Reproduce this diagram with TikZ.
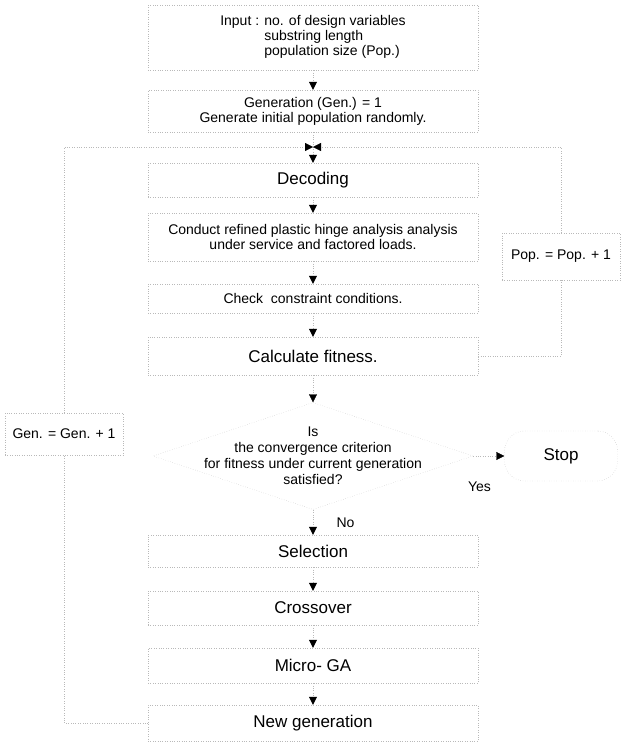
\documentclass[tikz,border=0pt]{standalone}
\usepackage{fontspec}
\setmainfont{Liberation Sans}
\usetikzlibrary{arrows.meta,shapes.geometric}

\begin{document}
\begin{tikzpicture}[x=1pt, y=-1pt,
  every node/.style = {align=center, font=\fontsize{14}{15}\selectfont},
  procbox/.style = {draw=gray!55, dotted, minimum width=330pt, inner sep=0pt},
  bigtxt/.style = {font=\fontsize{17}{20}\selectfont},
  flow/.style = {draw=gray!55, dotted, -{Triangle[length=8pt,width=8pt,color=black]}},
  link/.style = {draw=gray!55, dotted}]

  \useasboundingbox (0,0) rectangle (623,742);

  \node[procbox, minimum height=65pt] (input) at (313,37.5)
    {\begin{tabular}{@{}l@{ }l@{}}Input :&no. of design variables\\
      &substring length\\&population size (Pop.)\end{tabular}};
  \node[procbox, minimum height=42pt] (gen) at (313,111)
    {Generation (Gen.) = 1\\Generate initial population randomly.};
  \coordinate (join) at (313,147);
  \node[procbox, bigtxt, minimum height=34pt] (dec) at (313,180) {Decoding};
  \node[procbox, minimum height=48pt] (cond) at (313,237)
    {Conduct refined plastic hinge analysis analysis\\under service and factored loads.};
  \node[procbox, minimum height=29pt] (check) at (313,298.5) {Check\ \ constraint conditions.};
  \node[procbox, bigtxt, minimum height=38pt] (calc) at (313,356) {Calculate fitness.};
  \node[diamond, draw=gray!55, dotted, minimum width=320pt, minimum height=107pt, inner sep=0pt,
    label={[font=\fontsize{14}{16}\selectfont]center:Is\\the convergence criterion\\
      for fitness under current generation\\satisfied?}] (conv) at (313,456) {};
  \node[draw=gray!55, dotted, rounded corners=20pt, minimum width=113pt, minimum height=50pt,
    bigtxt] (stop) at (561,456) {Stop};
  \node[procbox, bigtxt, minimum height=32pt] (sel) at (313,551) {Selection};
  \node[procbox, bigtxt, minimum height=34pt] (cross) at (313,608) {Crossover};
  \node[procbox, bigtxt, minimum height=35pt] (micro) at (313,665.5) {Micro- GA};
  \node[procbox, bigtxt, minimum height=36pt] (newgen) at (313,723) {New generation};
  \node[draw=gray!55, dotted, fill=white, minimum width=118pt, minimum height=47pt]
    (pop) at (561,256.5) {Pop. = Pop. + 1};
  \node[draw=gray!55, dotted, fill=white, minimum width=118pt, minimum height=42pt]
    (genlbl) at (64,434) {Gen. = Gen. + 1};

  \draw[flow] (input) -- (gen);
  \draw[link] (gen) -- (join);
  \draw[flow] (join) -- (dec);
  \draw[link] (newgen.west) -| (genlbl.south);
  \draw[flow] (genlbl.north) |- (join);
  \draw[link] (calc.east) -| (pop.south);
  \draw[flow] (pop.north) |- (join);
  \draw[flow] (dec) -- (cond);
  \draw[flow] (cond) -- (check);
  \draw[flow] (check) -- (calc);
  \draw[flow] (calc) -- (conv);
  \draw[flow] (conv) -- node[pos=0.2, below=22pt] {Yes} (stop);
  \draw[flow] (conv) -- node[right=20pt] {No} (sel);
  \draw[flow] (sel) -- (cross);
  \draw[flow] (cross) -- (micro);
  \draw[flow] (micro) -- (newgen);
\end{tikzpicture}
\end{document}
